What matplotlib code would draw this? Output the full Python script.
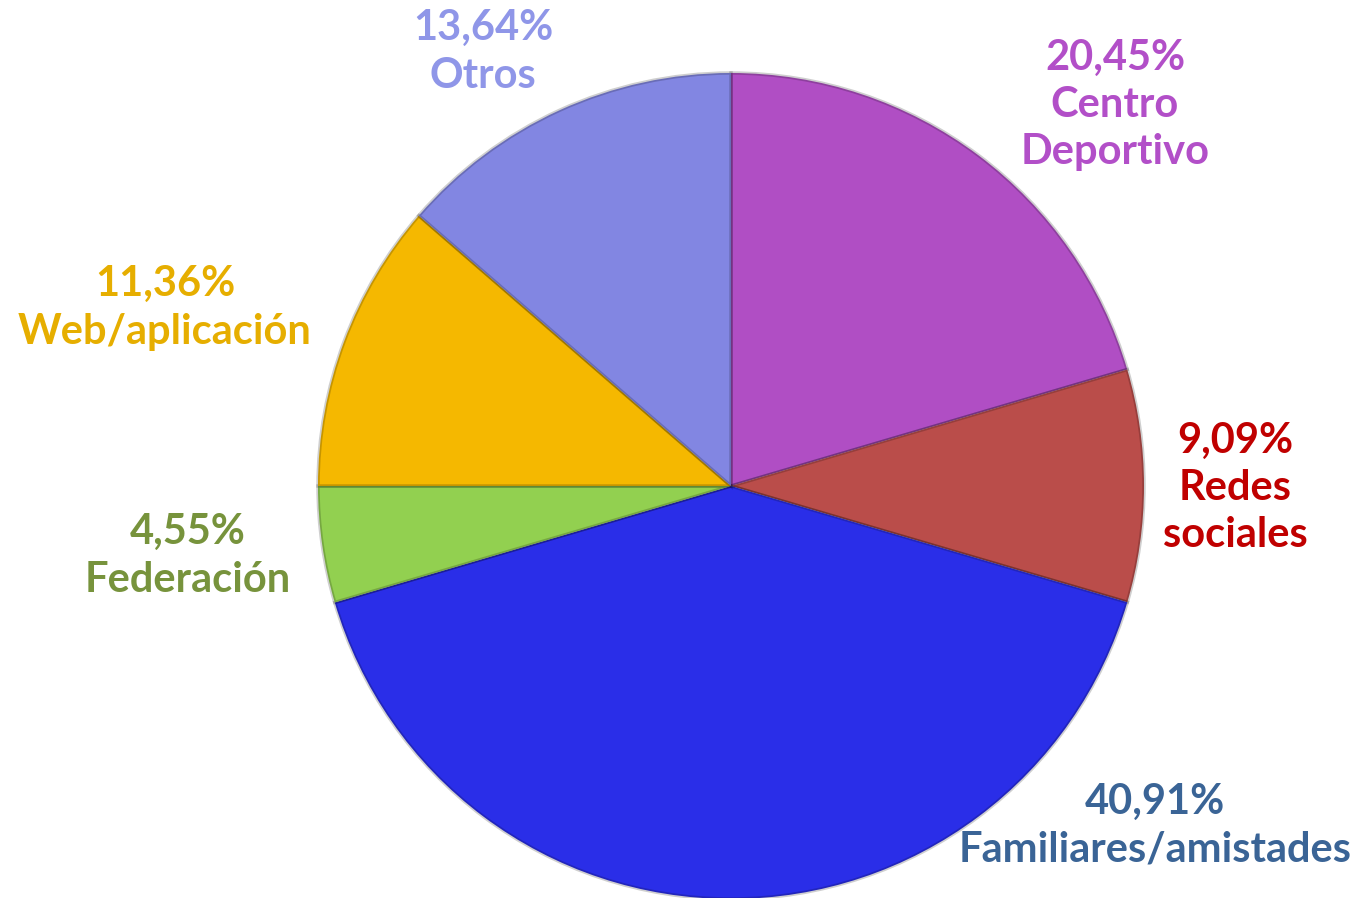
import matplotlib.pyplot as plt

plt.rcParams['font.family'] = ['Lato', 'DejaVu Sans']

# data, clockwise from 12 o'clock
labels = ['Centro\nDeportivo', 'Redes\nsociales', 'Familiares/amistades',
          'Federación', 'Web/aplicación', 'Otros']
values = [20.45, 9.09, 40.91, 4.55, 11.36, 13.64]
pct_text = ['20,45%', '9,09%', '40,91%', '4,55%', '11,36%', '13,64%']
wedge_colors = ['#B04EC4', '#BA4D4A', '#2A2EE8', '#92D050', '#F5B800', '#8286E2']
label_colors = ['#B24FC8', '#C00000', '#3A6496', '#77933C', '#E6AE00', '#8F96E8']
# label centres in pixels from top-left of the image
label_px = [(1115, 105), (1235, 488), (1155, 826), (188, 556), (165, 308), (483, 52)]

W, H = 1355, 898
fig = plt.figure(figsize=(W / 100, H / 100), dpi=100)
ax = fig.add_axes([318 / W, -1 / H, 826 / W, 826 / H])

wedges, _ = ax.pie(values, colors=wedge_colors, startangle=90, counterclock=False,
                   radius=1.0,
                   wedgeprops=dict(edgecolor='#00000030', linewidth=2.5))

ax.set_xlim(-1, 1)
ax.set_ylim(-1, 1)
ax.set_aspect('equal')
ax.axis('off')

for lab, pct, col, (px, py) in zip(labels, pct_text, label_colors, label_px):
    fig.text(px / W, 1 - py / H, pct + '\n' + lab, color=col, fontsize=30,
             fontweight='bold', ha='center', va='center', linespacing=1.3)

fig.savefig('out.png', dpi=100)
plt.close()
